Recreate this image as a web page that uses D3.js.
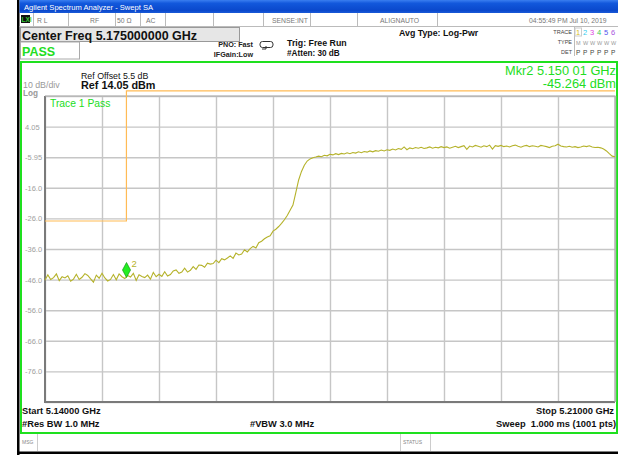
<!DOCTYPE html>
<html><head><meta charset="utf-8">
<script src="https://cdn.jsdelivr.net/npm/d3@7"></script>
<style>
html,body{margin:0;padding:0;background:#fff;}
svg{display:block;font-family:"Liberation Sans",Arial,sans-serif;}
</style></head>
<body><svg id="c" width="618" height="455"></svg>
<script>
// ---- data ----
const startFreq = 5.14, stopFreq = 5.21;            // GHz
const refLevel = 14.05, dbPerDiv = 10, divisions = 10;
const freqGridTicks = [5.140,5.147,5.154,5.161,5.168,5.175,5.182,5.189,5.196,5.203,5.210];
const ampTickValues = [4.05,-5.95,-15.95,-25.95,-35.95,-45.95,-55.95,-65.95,-75.95];
const ampTickLabels = ["4.05","-5.95","-16.0","-26.0","-36.0","-46.0","-56.0","-66.0","-76.0"];
const traceStepGHz = 0.00035;
const traceValues = [
-46.2,-44.4,-45.9,-45.3,-44.1,-46.3,-45.0,-45.4,-44.7,-46.5,-45.8,-44.2,-45.9,-45.2,-44.0,-44.6,-45.7,-46.8,-44.5,-45.5,
-43.9,-45.4,-46.4,-45.9,-44.3,-46.0,-44.1,-45.0,-45.6,-44.6,-45.1,-43.9,-46.2,-44.4,-44.9,-45.3,-44.5,-45.8,-43.6,-45.0,
-44.2,-44.9,-43.4,-44.8,-44.3,-43.1,-42.8,-43.9,-43.5,-42.2,-43.5,-42.9,-41.7,-42.6,-41.2,
-41.3,-41.9,-40.6,-40.9,-40.7,-39.6,-40.4,-39.1,-39.5,-38.9,-38.2,-39.0,-37.3,-37.9,-37.6,-36.2,-36.9,-35.8,-35.1,-35.6,
-33.9,-33.4,-32.6,-32.0,-31.6,-30.1,-29.5,-28.6,-27.6,-26.4,-25.0,-23.3,-21.6,
-17.5,-13.4,-10.6,-8.6,-7.2,-6.5,-6.1,-5.9,-5.6,-5.8,-5.3,-5.5,
-5.0,-5.2,-4.8,-5.1,-4.7,-4.9,-4.5,-4.8,-4.4,-4.6,-4.2,-4.5,-4.1,-4.3,-3.9,-4.2,-3.8,-4.0,-3.6,-3.9,
-3.5,-3.7,-3.3,-3.6,-3.1,-3.4,-2.6,-3.5,-2.9,-3.2,-2.8,-3.0,-2.7,-3.1,-2.9,-2.6,-3.0,-2.7,-2.9,-2.5,
-2.8,-2.6,-3.0,-2.7,-2.4,-2.8,-2.5,-2.2,-3.4,-2.3,-2.6,-2.1,-2.4,-2.7,-2.2,-2.5,-2.0,-3.3,-2.2,-2.4,
-2.1,-2.5,-2.3,-2.6,-2.2,-2.0,-2.4,-2.7,-2.3,-2.1,-2.5,-2.2,-2.4,-2.6,-2.1,-2.3,-2.5,-2.8,-2.4,-2.2,
-1.7,-2.3,-2.5,-2.6,-2.4,-2.7,-2.5,-2.8,-2.6,-2.3,-2.5,-2.2,-2.6,-2.8,-2.7,-2.9,-3.3,-3.9,-4.8,-5.6,
-5.8
];
const limitFreqs = [5.140, 5.150, 5.150, 5.210];
const limitValues = [-26.8, -26.8, 15.7, 15.7];
const markerFreq = 5.15001, markerValue = -45.264;
const statusItems = [["R L",37],["RF",90],["50 Ω",117],["AC",146],["SENSE:INT",272],["ALIGNAUTO",380],["04:55:49 PM Jul 10, 2019",529]];
const statusSeps = [33,68,115,140,165,213,263,310,357,437];
const traceNums = ["1","2","3","4","5","6"];
const traceColors = ["#d8c020","#33ccee","#dd44dd","#33cc55","#5555ee","#aa55dd"];

// ---- drawing ----
const svg = d3.select("#c");
const L=45, R=615, T=96, B=402;
const x = d3.scaleLinear().domain([startFreq, stopFreq]).range([L, R]);
const y = d3.scaleLinear().domain([refLevel - dbPerDiv*divisions, refLevel]).range([B, T]);

// left black bar
svg.append("rect").attr("x",17).attr("y",0).attr("width",2.5).attr("height",455).attr("fill","#000");
// title bar
const g0 = svg.append("defs").append("linearGradient").attr("id","tb").attr("x1",0).attr("x2",0).attr("y1",0).attr("y2",1);
g0.append("stop").attr("offset","0").attr("stop-color","#3a7ef0");
g0.append("stop").attr("offset","0.25").attr("stop-color","#1258dc");
g0.append("stop").attr("offset","0.8").attr("stop-color","#0a48cc");
g0.append("stop").attr("offset","1").attr("stop-color","#1a5ad8");
svg.append("rect").attr("x",19.5).attr("y",0).attr("width",599).attr("height",13).attr("fill","url(#tb)");
svg.append("text").attr("x",24).attr("y",9.5).attr("fill","#fff").attr("font-size",7.6).text("Agilent Spectrum Analyzer - Swept SA");

// status row
svg.append("line").attr("x1",19.5).attr("x2",618).attr("y1",26.5).attr("y2",26.5).attr("stroke","#bbb");
statusSeps.forEach(s=>svg.append("line").attr("x1",s+0.5).attr("x2",s+0.5).attr("y1",13).attr("y2",26.5).attr("stroke","#bbb"));
svg.append("rect").attr("x",21).attr("y",15).attr("width",9).attr("height",8).attr("fill","#111");
svg.append("text").attr("x",21.5).attr("y",22).attr("fill","#3c3").attr("font-size",6.5).attr("font-weight","bold").text("LXI");
statusItems.forEach(([t,px])=>svg.append("text").attr("x",px).attr("y",23).attr("fill","#777").attr("font-size",6.8).text(t));

// Center freq box
svg.append("rect").attr("x",20.5).attr("y",27.5).attr("width",219).attr("height",14).attr("fill","#e6e6e6").attr("stroke","#999");
svg.append("text").attr("x",22).attr("y",39.5).attr("font-size",12.5).attr("font-weight","bold").attr("fill","#111").text("Center Freq 5.175000000 GHz");
svg.append("rect").attr("x",20.5).attr("y",42).attr("width",59).attr("height",17).attr("fill","#fff").attr("stroke","#aaa");
svg.append("text").attr("x",22).attr("y",55.5).attr("font-size",12.5).attr("font-weight","bold").attr("fill","#22dd22").text("PASS");

svg.append("text").attr("x",253).attr("y",47).attr("text-anchor","end").attr("font-size",7.2).attr("font-weight","bold").attr("fill","#222").text("PNO: Fast");
svg.append("text").attr("x",253).attr("y",57).attr("text-anchor","end").attr("font-size",7.2).attr("font-weight","bold").attr("fill","#222").text("IFGain:Low");
svg.append("rect").attr("x",260).attr("y",41.5).attr("width",13).attr("height",6).attr("rx",2.5).attr("fill","none").attr("stroke","#333");
svg.append("path").attr("d","M262 49 L266 49 L266 46").attr("fill","none").attr("stroke","#333");
svg.append("text").attr("x",287).attr("y",46).attr("font-size",8.8).attr("font-weight","bold").attr("fill","#111").text("Trig: Free Run");
svg.append("text").attr("x",287).attr("y",55.5).attr("font-size",8.2).attr("font-weight","bold").attr("fill","#111").text("#Atten: 30 dB");
svg.append("text").attr("x",399).attr("y",35.5).attr("font-size",8.8).attr("font-weight","bold").attr("fill","#111").text("Avg Type: Log-Pwr");

// trace legend
[["TRACE",34],["TYPE",44],["DET",54]].forEach(([t,yy])=>svg.append("text").attr("x",572).attr("y",yy).attr("text-anchor","end").attr("font-size",5.5).attr("fill","#444").text(t));
svg.append("line").attr("x1",574.5).attr("x2",574.5).attr("y1",27).attr("y2",56).attr("stroke","#bbb");
svg.append("rect").attr("x",575).attr("y",28).attr("width",6.5).attr("height",8).attr("fill","none").attr("stroke","#ccc");
traceNums.forEach((t,i)=>{
  svg.append("text").attr("x",576+i*7).attr("y",35).attr("font-size",7.5).attr("fill",traceColors[i]).text(t);
  svg.append("text").attr("x",576+i*7).attr("y",45).attr("font-size",5.5).attr("fill","#999").text(i===0?"M":"W");
  svg.append("text").attr("x",576+i*7).attr("y",55).attr("font-size",6.5).attr("fill","#444").text("P");
});

// main green panel
svg.append("rect").attr("x",21).attr("y",62).attr("width",596).attr("height",371).attr("fill","#fff").attr("stroke","#1ee01e").attr("stroke-width",2);

// grid
const gx = svg.append("g").attr("transform",`translate(0,${B})`)
  .call(d3.axisBottom(x).tickValues(freqGridTicks).tickSize(-(B-T)).tickFormat(""));
gx.select(".domain").remove();
gx.selectAll("line").attr("stroke","#c6c6c6").attr("stroke-width",1.4);
const gy = svg.append("g").attr("transform",`translate(${L},0)`)
  .call(d3.axisLeft(y).tickValues(d3.range(divisions+1).map(i=>refLevel-i*dbPerDiv)).tickSize(-(R-L)).tickFormat(""));
gy.select(".domain").remove();
gy.selectAll("line").attr("stroke","#c6c6c6").attr("stroke-width",1.4);
// frame
svg.append("path").attr("d",`M${L},${T} L${L},${B} L${R},${B}`).attr("fill","none").attr("stroke","#7a7a7a").attr("stroke-width",2);
svg.append("path").attr("d",`M${L},${T} L${R},${T} L${R},${B}`).attr("fill","none").attr("stroke","#aaa").attr("stroke-width",1.2);

// y labels
const ya = svg.append("g").attr("transform","translate(25,0)")
  .call(d3.axisRight(y).tickValues(ampTickValues).tickSize(0).tickFormat((d,i)=>ampTickLabels[i]));
ya.select(".domain").remove();
ya.selectAll("text").attr("x",0).attr("font-size",7.5).attr("fill","#a0a0a0").attr("font-family","Liberation Sans, Arial, sans-serif");

// limit line
const lim = limitFreqs.map((f,i)=>[f,limitValues[i]]);
svg.append("path").datum(lim).attr("d",d3.line().x(d=>x(d[0])).y(d=>y(d[1])))
  .attr("fill","none").attr("stroke","#ffbb55").attr("stroke-width",1.2);

// trace
const tr = traceValues.map((v,i)=>[startFreq+i*traceStepGHz, v]);
svg.append("path").datum(tr).attr("d",d3.line().x(d=>x(d[0])).y(d=>y(d[1])))
  .attr("fill","none").attr("stroke","#b5b22a").attr("stroke-width",1.1);

// marker
const mx = x(markerFreq), my = y(markerValue);
svg.append("path").attr("d",`M${mx},${my} L${mx-4},${my-7.5} L${mx},${my-15} L${mx+4},${my-7.5} Z`)
  .attr("fill","#22ee22").attr("stroke","#119911").attr("stroke-width",0.7);
svg.append("text").attr("x",mx+5).attr("y",my-11).attr("font-size",9.5).attr("fill","#b5b22a").text("2");

// annotation texts
svg.append("text").attr("x",23).attr("y",88).attr("font-size",8.8).attr("fill","#999").text("10 dB/div");
svg.append("text").attr("x",23).attr("y",96).attr("font-size",8.2).attr("font-weight","bold").attr("fill","#999").text("Log");
svg.append("text").attr("x",81).attr("y",78.5).attr("font-size",8.8).attr("fill","#111").text("Ref Offset 5.5 dB");
svg.append("text").attr("x",81).attr("y",89).attr("font-size",10.8).attr("font-weight","bold").attr("fill","#111").text("Ref 14.05 dBm");
svg.append("text").attr("x",50).attr("y",107).attr("font-size",10.3).attr("fill","#22dd22").text("Trace 1 Pass");
svg.append("text").attr("x",616).attr("y",74.5).attr("text-anchor","end").attr("font-size",12.8).attr("fill","#22dd22").text("Mkr2 5.150 01 GHz");
svg.append("text").attr("x",616).attr("y",88).attr("text-anchor","end").attr("font-size",12.8).attr("fill","#22dd22").text("-45.264 dBm");

// bottom texts
const bt = (t,xx,yy,anc)=>svg.append("text").attr("x",xx).attr("y",yy).attr("text-anchor",anc).attr("font-size",9.3).attr("font-weight","bold").attr("fill","#111").text(t);
bt("Start 5.14000 GHz",22,414,"start");
bt("#Res BW 1.0 MHz",22,427,"start");
bt("#VBW 3.0 MHz",250,427,"start");
bt("Stop 5.21000 GHz",614,414,"end");
bt("Sweep  1.000 ms (1001 pts)",616,427,"end").attr("xml:space","preserve");

// msg row
svg.append("line").attr("x1",37.5).attr("x2",37.5).attr("y1",434).attr("y2",451).attr("stroke","#ccc");
svg.append("line").attr("x1",400.5).attr("x2",400.5).attr("y1",434).attr("y2",451).attr("stroke","#ccc");
svg.append("line").attr("x1",430.5).attr("x2",430.5).attr("y1",434).attr("y2",451).attr("stroke","#ccc");
svg.append("text").attr("x",22).attr("y",444).attr("font-size",5).attr("fill","#888").text("MSG");
svg.append("text").attr("x",403).attr("y",444).attr("font-size",5).attr("fill","#888").text("STATUS");
svg.append("rect").attr("x",17).attr("y",451.5).attr("width",601).attr("height",2.5).attr("fill","#000");
</script></body></html>
